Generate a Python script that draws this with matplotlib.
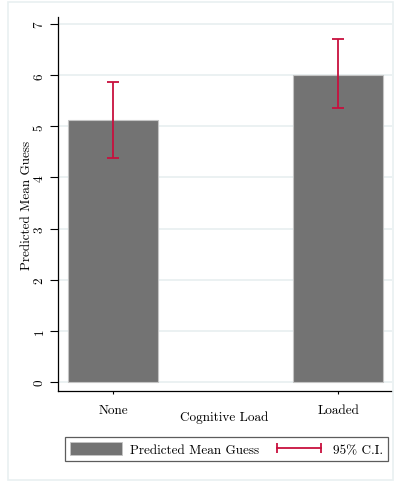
import numpy as np
import matplotlib
matplotlib.use('Agg')
import matplotlib.pyplot as plt
from matplotlib.patches import Patch, Rectangle
from matplotlib.lines import Line2D

# data
categories = ['None', 'Loaded']
mean_guess = [5.12, 6.0]
ci_low = [4.39, 5.35]
ci_high = [5.86, 6.71]
y_ticks = [0, 1, 2, 3, 4, 5, 6, 7]

plt.rcParams['font.family'] = ['cmr10', 'DejaVu Serif']
plt.rcParams['axes.formatter.use_mathtext'] = True

bar_color = '#737373'
ci_color = '#c8103e'
grid_color = '#e9f0f1'
fs = 9.5

fig = plt.figure(figsize=(4.01, 4.85), dpi=100)
fig.patch.set_facecolor('white')

# outer light frame
fig.add_artist(Rectangle((8 / 401, 4 / 485), 385 / 401, 478 / 485,
                         transform=fig.transFigure, fill=False,
                         edgecolor=grid_color, linewidth=1.2))

ax = fig.add_axes([58 / 401, 93 / 485, 334 / 401, 374 / 485])

x = np.arange(len(categories))
ax.bar(x, mean_guess, width=0.4, color=bar_color, edgecolor='#c4c4c4',
       linewidth=0.8, zorder=2)
means = np.array(mean_guess)
yerr = [means - np.array(ci_low), np.array(ci_high) - means]
ax.errorbar(x, means, yerr=yerr, fmt='none', ecolor=ci_color,
            elinewidth=1.3, capsize=4, capthick=1.3, zorder=3)

ax.set_xlim(-0.244, 1.238)
ax.set_ylim(-0.18, 7.14)
ax.set_yticks(y_ticks)
ax.set_yticklabels([str(t) for t in y_ticks], rotation=90, va='center')
ax.set_xticks(x)
ax.set_xticklabels(categories)

for t in y_ticks:
    ax.axhline(t, color=grid_color, linewidth=1.3, zorder=1)

for s in ['top', 'right']:
    ax.spines[s].set_visible(False)
ax.spines['left'].set_linewidth(0.9)
ax.spines['bottom'].set_linewidth(0.9)

ax.tick_params(axis='y', length=6, width=0.8, pad=3, labelsize=fs)
ax.tick_params(axis='x', length=2.5, width=0.8, pad=7, labelsize=fs)

ax.set_ylabel('Predicted Mean Guess', fontsize=fs)
ax.set_xlabel('Cognitive Load', fontsize=fs)
ax.yaxis.set_label_coords(-0.076, 0.5)
ax.xaxis.set_label_coords(0.4985, -0.052)

handles = [Patch(facecolor=bar_color, edgecolor='#c4c4c4', linewidth=0.6),
           Line2D([], [], color=ci_color, linewidth=1.3, marker='|',
                  markersize=7, markeredgewidth=1.3)]
leg = fig.legend(handles, ['Predicted Mean Guess', '95% C.I.'],
                 loc='center', bbox_to_anchor=(226.5 / 401, 1 - 450 / 485),
                 ncol=2, numpoints=2, fontsize=fs, frameon=True,
                 fancybox=False, edgecolor='#333333', handlelength=4.0,
                 handleheight=1.2, columnspacing=1.0, borderpad=0.35,
                 handletextpad=0.6)
leg.get_frame().set_linewidth(0.9)

fig.savefig('out.png', dpi=100)
